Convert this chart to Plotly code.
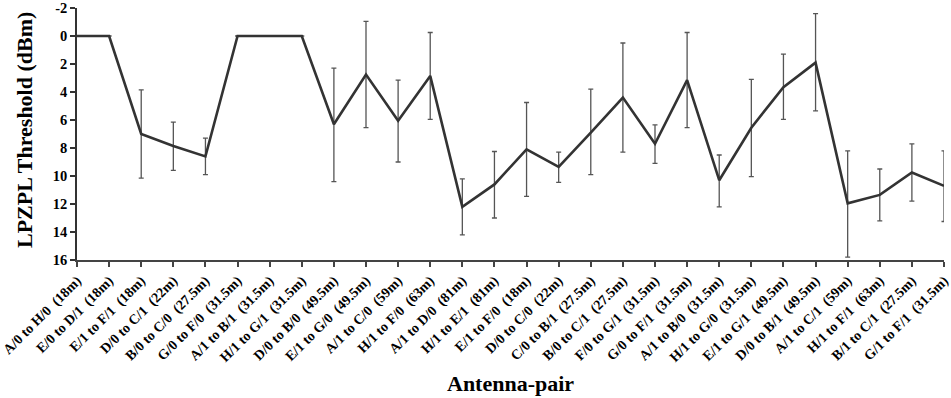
import plotly.graph_objects as go

pairs = ["A/0 to H/0", "E/0 to D/1", "E/1 to F/1", "D/0 to C/1", "B/0 to C/0",
         "G/0 to F/0", "A/1 to B/1", "H/1 to G/1", "D/0 to B/0", "E/1 to G/0",
         "A/1 to C/0", "H/1 to F/0", "A/1 to D/0", "H/1 to E/1", "E/1 to F/0",
         "D/0 to C/0", "C/0 to B/1", "B/0 to C/1", "F/0 to G/1", "G/0 to F/1",
         "A/1 to B/0", "H/1 to G/0", "E/1 to G/1", "D/0 to B/1", "A/1 to C/1",
         "H/1 to F/1", "B/1 to C/1", "G/1 to F/1"]
distances = ["18m", "18m", "18m", "22m", "27.5m", "31.5m", "31.5m", "31.5m", "49.5m", "49.5m",
             "59m", "63m", "81m", "81m", "18m", "22m", "27.5m", "27.5m", "31.5m", "31.5m",
             "31.5m", "31.5m", "49.5m", "49.5m", "59m", "63m", "27.5m", "31.5m"]
threshold = [0, 0, 7.0, 7.85, 8.6, 0, 0, 0, 6.3, 2.75,
             6.05, 2.85, 12.2, 10.6, 8.1, 9.35, 6.9, 4.4, 7.7, 3.15,
             10.3, 6.55, 3.65, 1.9, 11.95, 11.35, 9.75, 10.7]
err_plus = [0, 0, 3.15, 1.75, 1.3, 0, 0, 0, 4.1, 3.8,
            2.95, 3.1, 2.0, 2.4, 3.35, 1.1, 3.0, 3.9, 1.4, 3.4,
            1.9, 3.5, 2.3, 3.45, 3.85, 1.85, 2.05, 2.55]
err_minus = [0, 0, 3.15, 1.7, 1.3, 0, 0, 0, 4.0, 3.8,
             2.9, 3.1, 2.0, 2.35, 3.35, 1.05, 3.1, 3.9, 1.35, 3.4,
             1.8, 3.45, 2.35, 3.5, 3.75, 1.85, 2.05, 2.5]
yticks = [-2, 0, 2, 4, 6, 8, 10, 12, 14, 16]

labels = [f"{p}\u00a0 ({d})" for p, d in zip(pairs, distances)]
xs = list(range(len(labels)))

font = "Liberation Serif, Times New Roman, serif"

fig = go.Figure()
fig.add_trace(go.Scatter(
    x=xs, y=threshold, mode="lines",
    line=dict(color="#333333", width=2.6),
    error_y=dict(type="data", symmetric=False, array=err_plus, arrayminus=err_minus,
                 color="#555555", thickness=1.3, width=2.5),
    cliponaxis=False,
    showlegend=False,
))

fig.update_layout(
    width=951, height=398,
    margin=dict(l=77, r=7, t=8, b=138, autoexpand=False),
    paper_bgcolor="white", plot_bgcolor="white",
    font=dict(family=font, color="black"),
    xaxis=dict(
        tickmode="array", tickvals=xs, ticktext=[f"<b>{t}</b>" for t in labels],
        tickangle=-45, tickfont=dict(size=14, family=font, color="black"),
        range=[0, len(labels) - 1], ticklabeloverflow="allow",
        showgrid=False, zeroline=False, automargin=False,
        showline=True, linecolor="#444444", linewidth=2,
        ticks="outside", ticklen=5, tickcolor="#444444", tickwidth=1.5,
    ),
    yaxis=dict(
        range=[16, -2], tickmode="array", tickvals=yticks,
        ticktext=[f"<b>{v}</b>" for v in yticks],
        tickfont=dict(size=14.5, family=font, color="black"),
        showgrid=False, zeroline=False, automargin=False,
        showline=True, linecolor="#333333", linewidth=1.5,
        ticks="outside", ticklen=5, tickcolor="#333333", tickwidth=1.5,
    ),
    annotations=[
        dict(text="<b>Antenna-pair</b>", xref="paper", yref="paper", x=0.5, y=0,
             xanchor="center", yanchor="middle", yshift=-123, showarrow=False,
             font=dict(size=22, family=font, color="black")),
        dict(text="<b>LPZPL Threshold (dBm)</b>", xref="paper", yref="paper", x=0, y=0.5,
             xanchor="center", yanchor="middle", xshift=-53, yshift=4, textangle=-90,
             showarrow=False, font=dict(size=22, family=font, color="black")),
    ],
)

fig.write_html("out.html", config={"displayModeBar": False},
               post_script="document.body.style.margin='0';document.body.style.overflow='hidden';")
